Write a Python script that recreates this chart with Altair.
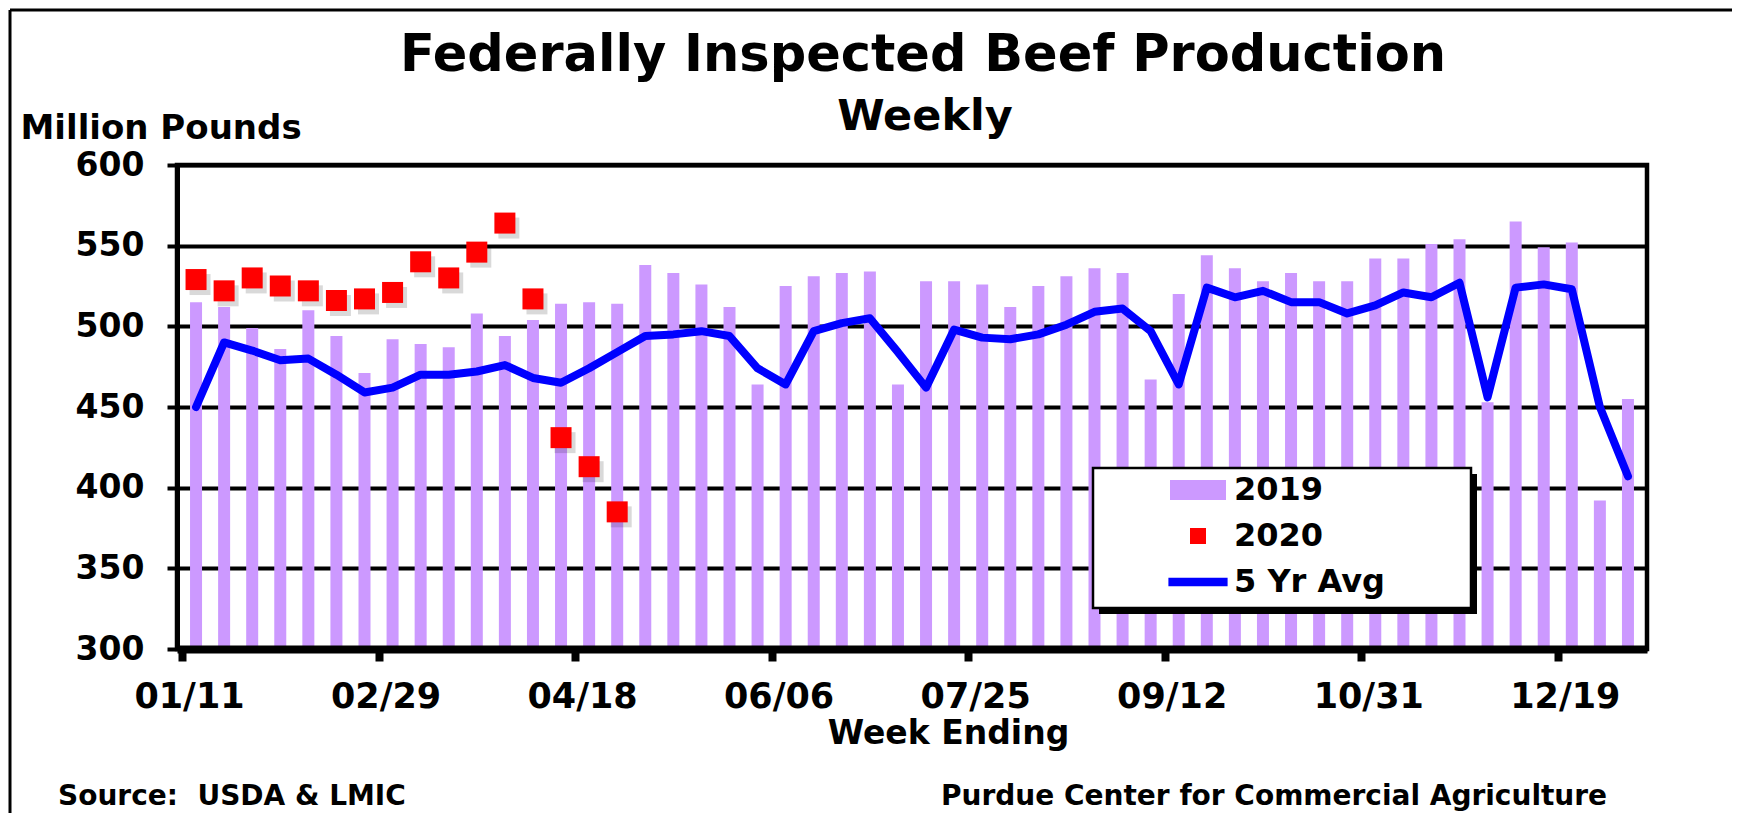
import json
import altair as alt
import pandas as pd

FONT = "DejaVu Sans"

# ---------------- data ----------------
x_tick_labels = ["01/11", "02/29", "04/18", "06/06", "07/25", "09/12", "10/31", "12/19"]
x_tick_weeks = [0, 7, 14, 21, 28, 35, 42, 49]
y_ticks = [300, 350, 400, 450, 500, 550, 600]

series_names = ["2019", "2020", "5 Yr Avg"]
series_colors = ["#CC99FF", "#FF0000", "#0000FF"]

prod_2019 = [515, 512, 499, 486, 510, 494, 471, 492, 489, 487,
             508, 494, 504, 514, 515, 514, 538, 533, 526, 512,
             464, 525, 531, 533, 534, 464, 528, 528, 526, 512,
             525, 531, 536, 533, 467, 520, 544, 536, 528, 533,
             528, 528, 542, 542, 551, 554, 453, 565, 549, 552,
             392, 455]

prod_2020 = [529, 522, 530, 525, 522, 516, 517, 521, 540, 530,
             546, 564, 517, 431, 413, 385]

avg_5yr = [450, 490, 485, 479, 480, 470, 459, 462, 470, 470,
           472, 476, 468, 465, 474, 484, 494, 495, 497, 494,
           474, 464, 497, 502, 505, 484, 462, 498, 493, 492,
           495, 501, 509, 511, 497, 464, 524, 518, 522, 515,
           515, 508, 513, 521, 518, 527, 456, 524, 526, 523,
           450, 407]

chart_title = "Federally Inspected Beef Production"
chart_subtitle = "Weekly"
y_title = "Million Pounds"
x_title = "Week Ending"
credit_source = "Source:\u00a0 USDA & LMIC"
credit_org = "Purdue Center for Commercial Agriculture"

rows = []
for i, v in enumerate(prod_2019):
    rows.append({"week": i, "series": series_names[0], "value": v})
for i, v in enumerate(prod_2020):
    rows.append({"week": i, "series": series_names[1], "value": v})
for i, v in enumerate(avg_5yr):
    rows.append({"week": i, "series": series_names[2], "value": v})
df = pd.DataFrame(rows)

# legend symbol shapes (styling only)
shape_paths = [
    "M-1.75,-0.62H1.75V0.62H-1.75Z",
    "M-0.5,-0.5H0.5V0.5H-0.5Z",
    "M-1.85,-0.26H1.85V0.26H-1.85Z",
]

label_expr = json.dumps(x_tick_labels) + "[round(datum.value / 7)]"

x_enc = alt.X(
    "pos:Q",
    scale=alt.Scale(domain=[0, 52], nice=False, zero=False),
    axis=alt.Axis(
        values=x_tick_weeks, labelExpr=label_expr, title=x_title,
        titleFont=FONT, titleFontSize=33, titleFontWeight="bold", titleColor="black",
        titleX=771, titleY=94, titleAlign="center", titleBaseline="alphabetic",
        labelFont=FONT, labelFontSize=35, labelFontWeight="bold", labelColor="black",
        labelPadding=18, labelOffset=7, labelFlush=False, labelOverlap=False,
        tickColor="black", tickWidth=8, tickSize=12,
        domainColor="black", domainWidth=8, grid=False, zindex=1,
    ),
)
y_enc = alt.Y(
    "value:Q",
    scale=alt.Scale(domain=[300, 600], nice=False, zero=False),
    axis=alt.Axis(
        values=y_ticks, title=y_title, titleAngle=0, titleAlign="left",
        titleBaseline="alphabetic", titleX=-157, titleY=-27,
        titleFont=FONT, titleFontSize=34, titleFontWeight="bold", titleColor="black",
        labelFont=FONT, labelFontSize=33, labelFontWeight="bold", labelColor="black",
        labelPadding=23, tickSize=10, tickWidth=4, tickColor="black",
        domainColor="black", domainWidth=5,
        grid=True, gridColor="black", gridWidth=4, gridOpacity=1, zindex=0,
    ),
)

base = alt.Chart(df).transform_calculate(pos="datum.week + 0.5")

bars = base.transform_filter(alt.datum.series == series_names[0]).mark_bar(
    size=12, color=series_colors[0]
).encode(x=x_enc, y=y_enc, y2=alt.datum(300))

line = base.transform_filter(alt.datum.series == series_names[2]).mark_line(
    color=series_colors[2], strokeWidth=8, strokeJoin="round", strokeCap="round"
).encode(x=x_enc, y=y_enc)

pts_shadow = base.transform_filter(alt.datum.series == series_names[1]).mark_square(
    size=441, color="black", opacity=0.15, xOffset=4, yOffset=5
).encode(x=x_enc, y=y_enc)

legend_kw = dict(
    title=None, orient="none", legendX=1005, legendY=309,
    labelFont=FONT, labelFontSize=32, labelFontWeight="bold", labelColor="black",
    symbolSize=1024, symbolStrokeWidth=0, symbolOpacity=1,
    labelOffset=20, rowPadding=14, padding=0,
)

points = base.transform_filter(alt.datum.series == series_names[1]).mark_point(
    filled=True, size=1764, opacity=1
).encode(
    x=x_enc, y=y_enc,
    color=alt.Color("series:N", scale=alt.Scale(domain=series_names, range=series_colors),
                    legend=alt.Legend(**legend_kw)),
    shape=alt.Shape("series:N", scale=alt.Scale(domain=series_names, range=shape_paths),
                    legend=alt.Legend(**legend_kw)),
)

one = alt.Data(values=[{"k": 0}])
legend_shadow = alt.Chart(one).mark_rect(color="black").encode(
    x=alt.value(922), x2=alt.value(1300), y=alt.value(309), y2=alt.value(449))
legend_box = alt.Chart(one).mark_rect(fill="white", stroke="black", strokeWidth=2.5).encode(
    x=alt.value(916), x2=alt.value(1294), y=alt.value(303), y2=alt.value(443))

def label_layer(text, x, y, size, align="left"):
    return alt.Chart(pd.DataFrame({"t": [text]})).mark_text(
        align=align, baseline="alphabetic", font=FONT, fontSize=size,
        fontWeight="bold", color="black"
    ).encode(text="t:N", x=alt.value(x), y=alt.value(y))

title_txt = label_layer(chart_title, 746, -94, 51, "center")
subtitle_txt = label_layer(chart_subtitle, 748, -35, 43, "center")
credit1 = label_layer(credit_source, -119, 640, 28)
credit2 = label_layer(credit_org, 764, 640, 28)

frame_top = alt.Chart(one).mark_rule(color="black", strokeWidth=3).encode(
    x=alt.value(-167), x2=alt.value(1580), y=alt.value(-155))
frame_left = alt.Chart(one).mark_rule(color="black", strokeWidth=3).encode(
    x=alt.value(-167), y=alt.value(-155), y2=alt.value(670))

chart = alt.layer(
    bars, line, pts_shadow, points, legend_shadow, legend_box,
    title_txt, subtitle_txt, credit1, credit2, frame_top, frame_left
).properties(
    width=1470, height=484,
    autosize=alt.AutoSizeParams(type="none"),
    padding={"left": 169, "top": 157, "right": 85, "bottom": 164},
    background="white",
).configure_view(stroke="black", strokeWidth=4.5)

chart.save("out.html", embed_options={"renderer": "svg", "actions": False})
